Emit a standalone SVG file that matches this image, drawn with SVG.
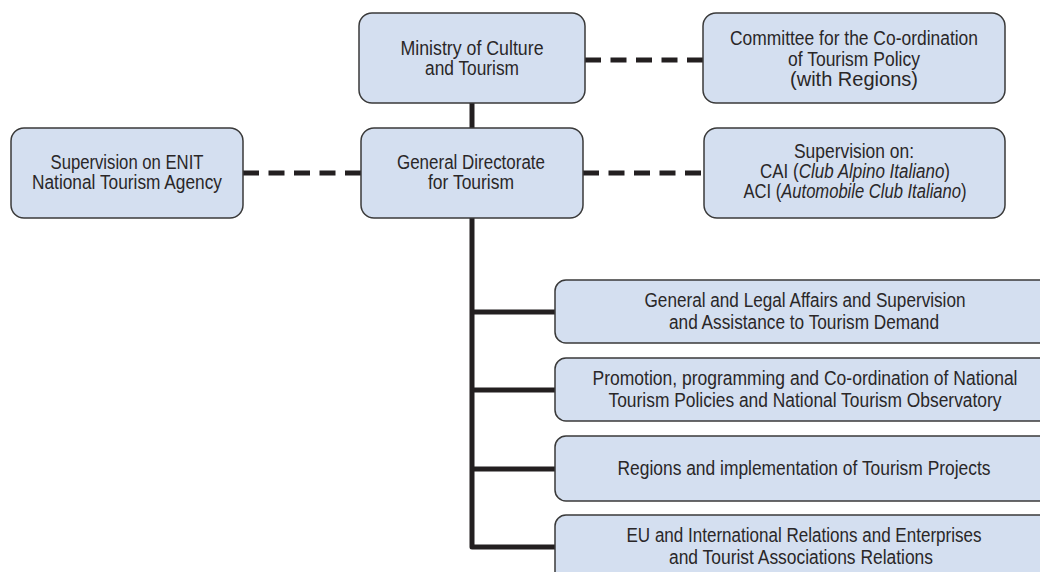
<svg xmlns="http://www.w3.org/2000/svg" width="1040" height="572" viewBox="0 0 1040 572">
<style>
.box{fill:#d4dff0;stroke:#3a3a3a;stroke-width:1.5}
.t{font-family:"Liberation Sans",Arial,sans-serif;font-size:20px;fill:#2a2728;text-anchor:middle}
.solid{stroke:#231f20;stroke-width:5;fill:none;stroke-linejoin:round}
.dash{stroke:#231f20;stroke-width:5;fill:none;stroke-dasharray:16 9.5}
</style>
<rect width="1040" height="572" fill="#ffffff"/>
<g id="connectors">
<line class="solid" x1="472" y1="103" x2="472" y2="128"/>
<path class="solid" d="M472 218 V547 H556"/>
<line class="solid" x1="472" y1="312" x2="556" y2="312"/>
<line class="solid" x1="472" y1="390" x2="556" y2="390"/>
<line class="solid" x1="472" y1="469" x2="556" y2="469"/>
<line class="dash" x1="585" y1="60" x2="703" y2="60"/>
<line class="dash" x1="243" y1="173" x2="361" y2="173"/>
<line class="dash" x1="583" y1="173" x2="704" y2="173"/>
</g>
<g id="ministry">
<rect class="box" x="359" y="13" width="226" height="90" rx="13"/>
<text class="t" x="472" y="54.5" textLength="143" lengthAdjust="spacingAndGlyphs">Ministry of Culture</text>
<text class="t" x="472" y="75" textLength="94" lengthAdjust="spacingAndGlyphs">and Tourism</text>
</g>
<g id="committee">
<rect class="box" x="703" y="13" width="302" height="90" rx="13"/>
<text class="t" x="854" y="45" textLength="248" lengthAdjust="spacingAndGlyphs">Committee for the Co-ordination</text>
<text class="t" x="854" y="65.5" textLength="132" lengthAdjust="spacingAndGlyphs">of Tourism Policy</text>
<text class="t" x="854" y="86" textLength="128" lengthAdjust="spacingAndGlyphs">(with Regions)</text>
</g>
<g id="enit">
<rect class="box" x="11" y="128" width="232" height="90" rx="13"/>
<text class="t" x="127" y="168.5" textLength="153" lengthAdjust="spacingAndGlyphs">Supervision on ENIT</text>
<text class="t" x="127" y="189" textLength="190" lengthAdjust="spacingAndGlyphs">National Tourism Agency</text>
</g>
<g id="directorate">
<rect class="box" x="361" y="128" width="222" height="90" rx="13"/>
<text class="t" x="471" y="168.5" textLength="148" lengthAdjust="spacingAndGlyphs">General Directorate</text>
<text class="t" x="471" y="189" textLength="86" lengthAdjust="spacingAndGlyphs">for Tourism</text>
</g>
<g id="supervision">
<rect class="box" x="704" y="128" width="301" height="90" rx="13"/>
<text class="t" x="854" y="158" textLength="120" lengthAdjust="spacingAndGlyphs">Supervision on:</text>
<text class="t" x="855" y="178" textLength="190" lengthAdjust="spacingAndGlyphs">CAI (<tspan font-style="italic">Club Alpino Italiano</tspan>)</text>
<text class="t" x="855" y="198" textLength="223" lengthAdjust="spacingAndGlyphs">ACI (<tspan font-style="italic">Automobile Club Italiano</tspan>)</text>
</g>
<g id="affairs">
<rect class="box" x="555" y="280" width="510" height="63" rx="11"/>
<text class="t" x="805" y="307" textLength="321" lengthAdjust="spacingAndGlyphs">General and Legal Affairs and Supervision</text>
<text class="t" x="804" y="328.5" textLength="270" lengthAdjust="spacingAndGlyphs">and Assistance to Tourism Demand</text>
</g>
<g id="promotion">
<rect class="box" x="555" y="358" width="510" height="63" rx="11"/>
<text class="t" x="805" y="385" textLength="425" lengthAdjust="spacingAndGlyphs">Promotion, programming and Co-ordination of National</text>
<text class="t" x="805" y="406.5" textLength="393" lengthAdjust="spacingAndGlyphs">Tourism Policies and National Tourism Observatory</text>
</g>
<g id="regions">
<rect class="box" x="555" y="436" width="510" height="65" rx="11"/>
<text class="t" x="804" y="475" textLength="373" lengthAdjust="spacingAndGlyphs">Regions and implementation of Tourism Projects</text>
</g>
<g id="eu">
<rect class="box" x="555" y="515" width="510" height="70" rx="11"/>
<text class="t" x="804" y="542" textLength="355" lengthAdjust="spacingAndGlyphs">EU and International Relations and Enterprises</text>
<text class="t" x="801" y="563.5" textLength="264" lengthAdjust="spacingAndGlyphs">and Tourist Associations Relations</text>
</g>
</svg>
